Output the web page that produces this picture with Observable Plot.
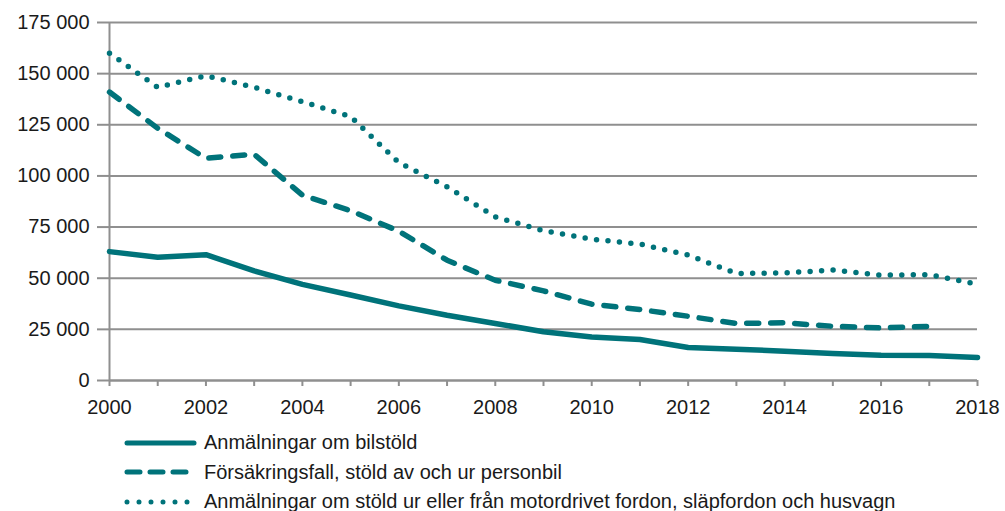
<!DOCTYPE html>
<html>
<head>
<meta charset="utf-8">
<script src="https://cdn.jsdelivr.net/npm/d3@7"></script>
<script src="https://cdn.jsdelivr.net/npm/@observablehq/plot@0.6"></script>
<style>
  html, body { margin: 0; padding: 0; background: #fff; }
  #chart svg { display: block; }
  .legend { margin-top: 3px; font-family: "Liberation Sans", Arial, sans-serif; font-size: 20px; color: #1a1a1a; }
  .legend .row { display: flex; align-items: center; height: 29.5px; }
  .legend svg { display: block; margin-left: 124px; margin-right: 6px; }
</style>
</head>
<body>
<div id="chart"></div>
<div class="legend" id="legend"></div>
<script>
const years = [2000, 2001, 2002, 2003, 2004, 2005, 2006, 2007, 2008, 2009, 2010, 2011, 2012, 2013, 2014, 2015, 2016, 2017, 2018];
const seriesNames = [
  "Anmälningar om bilstöld",
  "Försäkringsfall, stöld av och ur personbil",
  "Anmälningar om stöld ur eller från motordrivet fordon, släpfordon och husvagn"
];
const bilstold = [63000, 60200, 61500, 53600, 47000, 41800, 36500, 31900, 27900, 23800, 21300, 20000, 16100, 15300, 14300, 13200, 12400, 12200, 11300];
const forsakring = [141000, 123300, 108600, 110600, 90600, 83000, 73000, 58800, 49000, 43800, 37300, 34700, 31400, 27900, 28200, 26500, 25700, 26500, null];
const fordon = [160000, 143300, 149000, 143300, 136300, 129000, 106500, 94700, 80000, 73200, 69100, 66700, 61300, 52300, 52600, 54000, 51500, 51700, 47100];
const yTicks = [0, 25000, 50000, 75000, 100000, 125000, 150000, 175000];

const teal = "#00737a";
const gridColor = "#8f8f8f";
const dashes = [null, "12,12", "0,11.5"];

const toRows = (vals, name) => years.map((y, i) => ({year: y, value: vals[i], series: name})).filter(d => d.value != null);
const tables = [toRows(bilstold, seriesNames[0]), toRows(forsakring, seriesNames[1]), toRows(fordon, seriesNames[2])];

const fmt = d => d3.format(",")(d).replace(/,/g, " ");

const chart = Plot.plot({
  width: 1005,
  height: 425,
  marginLeft: 109,
  marginRight: 28,
  marginTop: 22,
  marginBottom: 45,
  style: {fontFamily: "Liberation Sans, Arial, sans-serif", fontSize: "20px", color: "#1a1a1a", background: "#fff"},
  x: {domain: [2000, 2018]},
  y: {domain: [0, 175000]},
  marks: [
    Plot.gridY(yTicks, {stroke: gridColor, strokeOpacity: 1, strokeWidth: 2}),
    Plot.ruleX([2000], {stroke: gridColor, strokeWidth: 2}),
    Plot.axisY({ticks: yTicks, tickSize: 12, tickPadding: 8, tickFormat: fmt, stroke: gridColor, strokeWidth: 2, strokeOpacity: 1, fill: "#1a1a1a", fontSize: 20, label: null}),
    Plot.axisX({ticks: years, tickSize: 6, tickPadding: 13, tickFormat: d => d % 2 === 0 ? String(d) : "", stroke: gridColor, strokeWidth: 2, strokeOpacity: 1, fill: "#1a1a1a", fontSize: 20, label: null}),
    Plot.ruleY([0], {stroke: gridColor, strokeWidth: 2}),
    ...tables.map((t, i) => Plot.line(t, {
      x: "year", y: "value", stroke: teal, strokeWidth: 5.5,
      strokeDasharray: dashes[i], strokeLinecap: "round", strokeLinejoin: "round"
    }))
  ]
});
document.getElementById("chart").appendChild(chart);

// Legend
const legend = d3.select("#legend");
seriesNames.forEach((name, i) => {
  const row = legend.append("div").attr("class", "row");
  const s = row.append("svg").attr("width", 74).attr("height", 12);
  const line = s.append("line").attr("x1", 3).attr("x2", 70).attr("y1", 6).attr("y2", 6)
    .attr("stroke", teal).attr("stroke-width", 5).attr("stroke-linecap", "round");
  if (i === 1) line.attr("x1", 3).attr("x2", 72).attr("stroke-dasharray", "13,10");
  if (i === 2) line.attr("x1", 3).attr("x2", 66).attr("stroke-dasharray", "0,12");
  row.append("span").text(name);
});
</script>
</body>
</html>
